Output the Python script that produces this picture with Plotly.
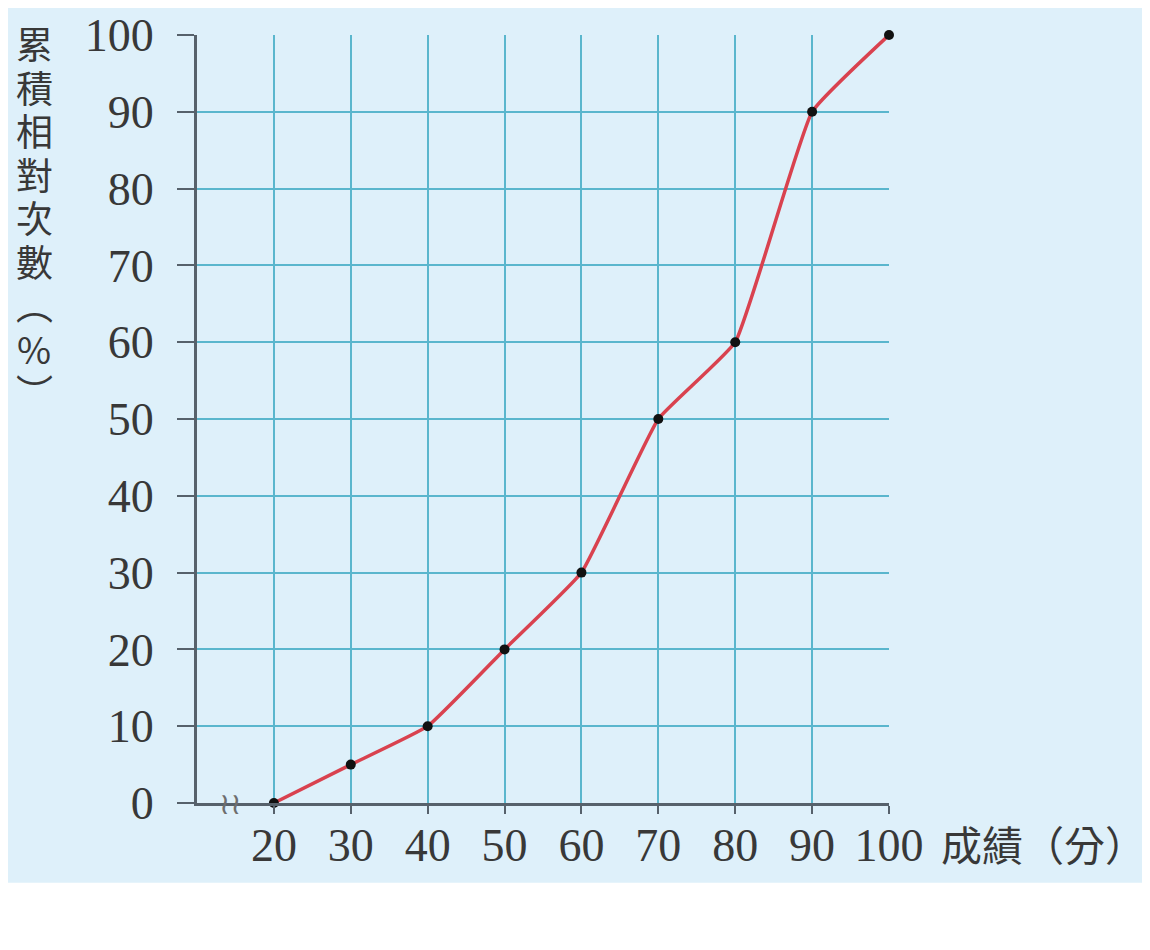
import plotly.graph_objects as go

# 成績 (分) vs 累積相對次數 (%)
scores = [20, 30, 40, 50, 60, 70, 80, 90, 100]
cum_pct = [0, 5, 10, 20, 30, 50, 60, 90, 100]
x_ticks = [20, 30, 40, 50, 60, 70, 80, 90, 100]
y_ticks = [0, 10, 20, 30, 40, 50, 60, 70, 80, 90, 100]
y_title = ['累', '積', '相', '對', '次', '數', '︵', '%', '︶']
x_title = '成績（分）'

bg = '#DEF0FA'
grid = '#5AB6CD'
axis_col = '#56616B'
txt = '#383838'

fig = go.Figure()
fig.add_trace(go.Scatter(
    x=scores, y=cum_pct, mode='lines+markers',
    line=dict(color='#D9424F', width=3.5, shape='spline', smoothing=0.35),
    marker=dict(color='#111111', size=10),
    cliponaxis=False, showlegend=False,
))

# white strip under the light blue card
fig.add_shape(type='rect', xref='paper', yref='paper',
              x0=-0.3, x1=1.4, y0=-0.25, y1=-0.104,
              fillcolor='white', line_width=0, layer='below')

# axis break mark
fig.add_annotation(x=14.3, y=0, xref='x', yref='y', text='≀≀', showarrow=False,
                   font=dict(family='DejaVu Sans', size=30, color='#6E6E6E'))

# y title, one character per line (vertical writing)
for i, ch in enumerate(y_title):
    fig.add_annotation(xref='paper', yref='paper', x=-0.235, y=1.0,
                       xanchor='center', yanchor='middle', showarrow=False,
                       yshift=-(8 + i * 43.5), text=ch,
                       font=dict(family='Noto Sans CJK TC', size=37, color=txt))

# x title
fig.add_annotation(xref='paper', yref='paper', x=1.072, y=-0.052,
                   xanchor='left', yanchor='middle', showarrow=False,
                   text=x_title,
                   font=dict(family='Noto Sans CJK TC', size=41, color=txt))

fig.update_xaxes(
    range=[10, 100], tickvals=x_ticks, showgrid=True, gridcolor=grid, gridwidth=2,
    showline=True, linecolor=axis_col, linewidth=3, zeroline=False,
    ticks='outside', ticklen=8, tickwidth=2, tickcolor=axis_col,
    ticklabelstandoff=-8, automargin=False,
    tickfont=dict(family='Liberation Serif', size=46, color=txt),
)
fig.update_yaxes(
    range=[0, 100], tickvals=y_ticks, showgrid=True, gridcolor=grid, gridwidth=2,
    showline=True, linecolor=axis_col, linewidth=3, zeroline=False,
    ticks='outside', ticklen=17, tickwidth=2, tickcolor=axis_col,
    ticklabelstandoff=14, automargin=False,
    tickfont=dict(family='Liberation Serif', size=46, color=txt),
)
fig.update_layout(
    width=1150, height=950,
    margin=dict(l=189, r=269, t=27, b=155),
    paper_bgcolor=bg, plot_bgcolor=bg,
)

fig.write_html('out.html')
